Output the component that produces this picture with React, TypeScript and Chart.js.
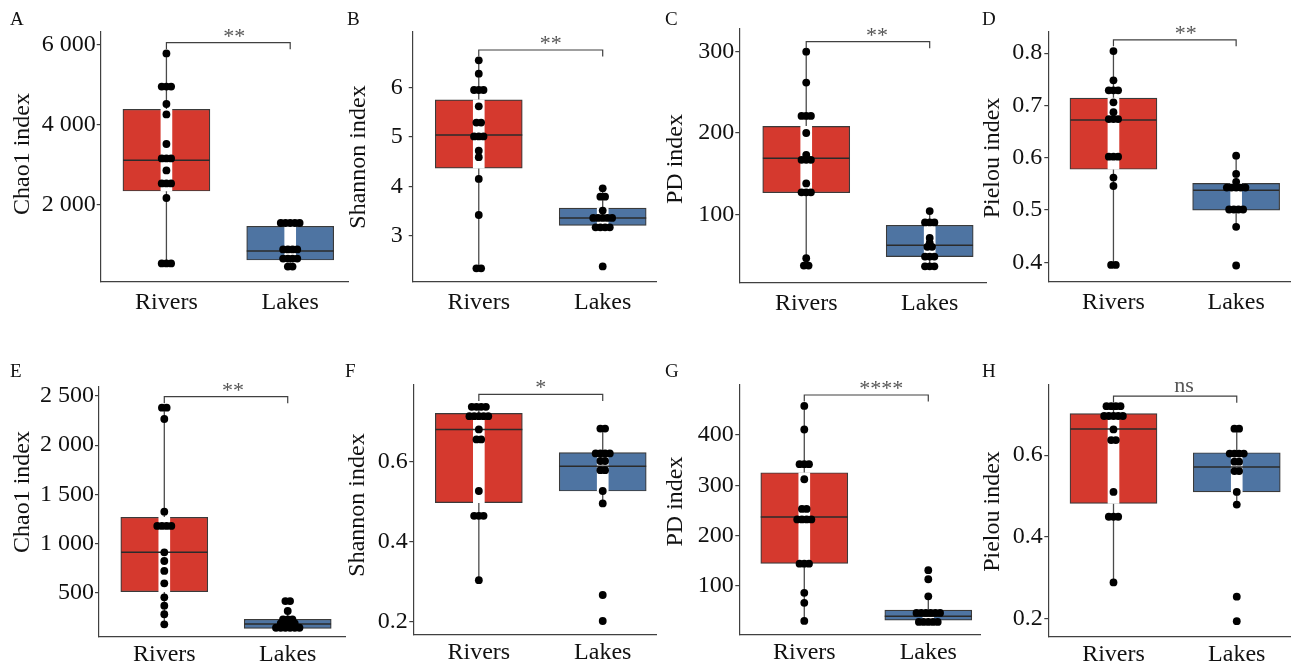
import React, { useEffect, useRef } from 'react';
import { Chart, registerables } from 'chart.js';

Chart.register(...registerables);

// ---------------- data ----------------
const groups = ['Rivers', 'Lakes'];
const panelLetters = ['A', 'B', 'C', 'D', 'E', 'F', 'G', 'H'];
const yTitles = ['Chao1 index', 'Shannon index', 'PD index', 'Pielou index', 'Chao1 index', 'Shannon index', 'PD index', 'Pielou index'];
const yTicks = [
  [2000, 4000, 6000],
  [3, 4, 5, 6],
  [100, 200, 300],
  [0.4, 0.5, 0.6, 0.7, 0.8],
  [500, 1000, 1500, 2000, 2500],
  [0.2, 0.4, 0.6],
  [100, 200, 300, 400],
  [0.2, 0.4, 0.6],
];
const yMin = [83, 2.07, 15.9, 0.363, 54, 0.167, 2, 0.155];
const yMax = [6333, 7.13, 328.8, 0.841, 2594, 0.792, 499.6, 0.772];
const sigLabels = ['**', '**', '**', '**', '**', '*', '****', 'ns'];
const sigLevels = [6058, 6.76, 312.3, 0.8255, 2493, 0.7685, 479.7, 0.7446];

const riversQ1 = [2350, 4.37, 126.6, 0.578, 511, 0.498, 144.4, 0.482];
const riversMedian = [3117, 5.04, 169, 0.672, 911, 0.681, 236.7, 0.664];
const riversQ3 = [4392, 5.75, 208.2, 0.714, 1267, 0.721, 325, 0.702];
const riversLow = [540, 2.34, 37, 0.395, 180, 0.304, 30, 0.288];
const riversHigh = [5790, 6.55, 300, 0.804, 2381, 0.7375, 458, 0.72];

const lakesQ1 = [625, 3.21, 48, 0.5, 139, 0.527, 31.5, 0.51];
const lakesMedian = [850, 3.36, 62, 0.538, 183, 0.589, 39.4, 0.571];
const lakesQ3 = [1467, 3.56, 86.5, 0.551, 231, 0.623, 51.4, 0.606];
const lakesLow = [460, 3.17, 36, 0.468, 145, 0.496, 28, 0.479];
const lakesHigh = [1550, 3.96, 104, 0.604, 315, 0.683, 79, 0.665];

const riversDots = [
  [5790, 4960, 4960, 4960, 4525, 4265, 3525, 3165, 3165, 3165, 2865, 2540, 2540, 2540, 2175, 540, 540, 540],
  [6.55, 6.28, 5.95, 5.95, 5.95, 5.62, 5.29, 5.29, 5.01, 5.01, 5.01, 4.72, 4.59, 4.15, 3.42, 2.34, 2.34],
  [300, 262, 221, 221, 221, 200, 173, 167, 167, 167, 138, 127, 127, 127, 46, 37, 37],
  [0.804, 0.748, 0.729, 0.729, 0.729, 0.706, 0.687, 0.674, 0.674, 0.674, 0.602, 0.602, 0.602, 0.562, 0.546, 0.395, 0.395],
  [2381, 2381, 2266, 1324, 1179, 1179, 1179, 1179, 911, 823, 722, 596, 454, 369, 282, 180],
  [0.7375, 0.7375, 0.7375, 0.7375, 0.714, 0.714, 0.714, 0.714, 0.714, 0.681, 0.656, 0.656, 0.527, 0.465, 0.465, 0.465, 0.304],
  [458, 411, 342, 342, 342, 312, 253, 253, 232, 232, 232, 232, 144, 144, 144, 86, 66, 30],
  [0.72, 0.72, 0.72, 0.72, 0.696, 0.696, 0.696, 0.696, 0.696, 0.663, 0.637, 0.637, 0.51, 0.449, 0.449, 0.449, 0.288],
];
const lakesDots = [
  [1550, 1550, 1550, 1550, 1550, 890, 890, 890, 890, 660, 660, 660, 660, 460, 460],
  [3.96, 3.79, 3.79, 3.51, 3.36, 3.36, 3.36, 3.36, 3.36, 3.17, 3.17, 3.17, 3.17, 2.38],
  [104, 90, 90, 90, 71, 65, 60, 60, 48, 48, 48, 36, 36, 36],
  [0.604, 0.569, 0.554, 0.543, 0.543, 0.543, 0.543, 0.543, 0.501, 0.501, 0.501, 0.501, 0.468, 0.394],
  [416, 416, 315, 230, 230, 230, 188, 188, 188, 188, 145, 145, 145, 145, 145, 145],
  [0.683, 0.683, 0.621, 0.621, 0.621, 0.621, 0.602, 0.602, 0.579, 0.579, 0.527, 0.496, 0.267, 0.202],
  [131, 113, 79, 46, 46, 46, 46, 46, 46, 28, 28, 28, 28, 28],
  [0.665, 0.665, 0.604, 0.604, 0.604, 0.604, 0.584, 0.584, 0.561, 0.561, 0.51, 0.479, 0.253, 0.193],
];

// ---------------- layout & style ----------------
const FONT = '"Liberation Serif", "Times New Roman", serif';
const RED = '#D5392E';
const BLUE = '#4E74A2';
const EDGE = '#3a3a3a';
const AXIS = '#404040';
const WHISKER = '#4a4a4a';
const DOT_STEP = 0.038; // horizontal step between stacked dots (x units)
const BOX_HALF = 0.351;
const TIP = 6.5;

type Lay = {
  rect: number[]; area: number[]; x: number[]; letter: number[]; title: number[];
  sigDx: number; tickPad: number; xPad: number;
};
const LAYOUT: Lay[] = [
  { rect: [0, 0, 352, 334], area: [100.7, 31.7, 349, 281.7], x: [0.469, 2.467], letter: [10, 25], title: [22.5, 154], sigDx: 6, tickPad: 1, xPad: 7 },
  { rect: [340, 0, 320, 334], area: [412.7, 31.7, 656.7, 281.7], x: [0.467, 2.43], letter: [347, 25], title: [358.5, 157], sigDx: 10, tickPad: 6, xPad: 7 },
  { rect: [660, 0, 330, 334], area: [739.3, 28.3, 987.7, 282.7], x: [0.458, 2.456], letter: [665, 25], title: [676, 159], sigDx: 9, tickPad: 1, xPad: 7 },
  { rect: [975, 0, 319, 334], area: [1048.3, 31.7, 1292, 281.7], x: [0.469, 2.439], letter: [982, 25], title: [992.5, 158], sigDx: 11, tickPad: 2, xPad: 7 },
  { rect: [0, 334, 350, 334], area: [99, 386.7, 345, 636.7], x: [0.471, 2.464], letter: [10, 377], title: [22.5, 492], sigDx: 7, tickPad: 1, xPad: 3.5 },
  { rect: [340, 334, 320, 334], area: [413.3, 385, 656.7, 635], x: [0.471, 2.43], letter: [345, 377], title: [357.5, 505], sigDx: 0, tickPad: 1.5, xPad: 3.5 },
  { rect: [660, 334, 325, 334], area: [739.3, 385, 980, 635], x: [0.476, 2.417], letter: [665, 377], title: [676, 501.5], sigDx: 15, tickPad: 1.5, xPad: 3.5 },
  { rect: [975, 334, 319, 334], area: [1048.3, 385, 1292, 636.7], x: [0.471, 2.432], letter: [982, 377], title: [992.5, 511.5], sigDx: 9, tickPad: 1.5, xPad: 3.5 },
];

function fmtTick(v: number) {
  if (Math.abs(v) >= 1000) return String(v).replace(/\B(?=(\d{3})+(?!\d))/g, ' ');
  return String(v);
}

function swarm(values: number[], center: number) {
  const counts = new Map<number, number>();
  values.forEach((v) => counts.set(v, (counts.get(v) || 0) + 1));
  const out: { x: number; y: number }[] = [];
  counts.forEach((n, v) => {
    for (let k = 0; k < n; k++) out.push({ x: center + (k - (n - 1) / 2) * DOT_STEP, y: v });
  });
  return out;
}

const annotPlugin = {
  id: 'annot',
  afterDatasetsDraw(chart: any, _args: any, opts: any) {
    const i = opts.i;
    const L = LAYOUT[i];
    const [rx, ry] = L.rect;
    const { ctx } = chart;
    const xs = chart.scales.x;
    const ys = chart.scales.y;
    ctx.save();
    const x1 = xs.getPixelForValue(1);
    const x2 = xs.getPixelForValue(2);
    const yb = ys.getPixelForValue(sigLevels[i]);
    ctx.strokeStyle = AXIS;
    ctx.lineWidth = 1.2;
    ctx.beginPath();
    ctx.moveTo(x1, yb + TIP);
    ctx.lineTo(x1, yb);
    ctx.lineTo(x2, yb);
    ctx.lineTo(x2, yb + TIP);
    ctx.stroke();
    const lab = sigLabels[i];
    ctx.fillStyle = '#555';
    ctx.font = `22px ${FONT}`;
    ctx.textAlign = 'center';
    ctx.textBaseline = 'alphabetic';
    ctx.fillText(lab, (x1 + x2) / 2 + L.sigDx, yb - (lab === 'ns' ? 4 : 0));
    ctx.fillStyle = '#111';
    ctx.font = `19px ${FONT}`;
    ctx.textAlign = 'left';
    ctx.fillText(panelLetters[i], L.letter[0] - rx, L.letter[1] - ry);
    ctx.translate(L.title[0] - rx, L.title[1] - ry);
    ctx.rotate(-Math.PI / 2);
    ctx.font = `24px ${FONT}`;
    ctx.textAlign = 'center';
    ctx.textBaseline = 'middle';
    ctx.fillStyle = '#111';
    ctx.fillText(yTitles[i], 0, 0);
    ctx.restore();
  },
};

function Panel({ i }: { i: number }) {
  const ref = useRef<HTMLCanvasElement>(null);
  const L = LAYOUT[i];
  const [rx, ry, rw, rh] = L.rect;
  useEffect(() => {
    const [al, at, ar, ab] = L.area;
    const boxes = [
      { x: 1, y: [riversQ1[i], riversQ3[i]] },
      { x: 2, y: [lakesQ1[i], lakesQ3[i]] },
    ];
    const whiskers = [
      { x: 1, y: riversLow[i] }, { x: 1, y: riversHigh[i] }, { x: 1.5, y: null },
      { x: 2, y: lakesLow[i] }, { x: 2, y: lakesHigh[i] },
    ];
    const medians = [
      { x: 1 - BOX_HALF, y: riversMedian[i] }, { x: 1 + BOX_HALF, y: riversMedian[i] }, { x: 1.5, y: null },
      { x: 2 - BOX_HALF, y: lakesMedian[i] }, { x: 2 + BOX_HALF, y: lakesMedian[i] },
    ];
    const dots = [...swarm(riversDots[i], 1), ...swarm(lakesDots[i], 2)];
    const chart = new Chart(ref.current as HTMLCanvasElement, {
      type: 'scatter',
      data: {
        datasets: [
          {
            type: 'bar', data: boxes as any, backgroundColor: [RED, BLUE], borderColor: EDGE,
            borderWidth: 1.2, borderSkipped: false, barThickness: 87, grouped: false, order: 6,
          } as any,
          {
            type: 'line', data: whiskers as any, borderColor: WHISKER, borderWidth: 1.3,
            pointRadius: 0, spanGaps: false, fill: false, order: 5,
          } as any,
          {
            type: 'bar', data: boxes as any, backgroundColor: '#ffffff', borderWidth: 0,
            barThickness: 11, grouped: false, order: 4,
          } as any,
          {
            type: 'line', data: medians as any, borderColor: '#2b2b2b', borderWidth: 1.5,
            pointRadius: 0, spanGaps: false, fill: false, order: 3,
          } as any,
          {
            type: 'scatter', data: dots as any, pointRadius: 3.9, backgroundColor: '#000000',
            borderWidth: 0, order: 1, clip: false,
          } as any,
        ],
      },
      options: {
        responsive: false,
        animation: false,
        events: [],
        layout: { padding: { left: 0, top: at - ry, right: rx + rw - ar, bottom: 0 } },
        plugins: {
          legend: { display: false },
          tooltip: { enabled: false },
          annot: { i },
        } as any,
        scales: {
          x: {
            type: 'linear', min: L.x[0], max: L.x[1], offset: false,
            grid: { display: false, drawTicks: false },
            border: { display: true, color: AXIS, width: 1.2 },
            ticks: {
              font: { family: FONT, size: 24 }, color: '#111', padding: L.xPad,
              maxRotation: 0, autoSkip: false,
              callback: (v: any) => groups[Math.round(Number(v)) - 1] ?? '',
            },
            afterBuildTicks: (s: any) => { s.ticks = [{ value: 1 }, { value: 2 }]; },
            afterFit: (s: any) => { s.height = ry + rh - ab; },
          },
          y: {
            type: 'linear', min: yMin[i], max: yMax[i],
            grid: { display: true, drawOnChartArea: false, drawTicks: true, tickLength: 4, color: AXIS, lineWidth: 1.2 },
            border: { display: true, color: AXIS, width: 1.2 },
            ticks: {
              font: { family: FONT, size: 24 }, color: '#111', padding: L.tickPad,
              callback: (v: any) => fmtTick(Number(v)),
            },
            afterBuildTicks: (s: any) => { s.ticks = yTicks[i].map((v) => ({ value: v })); },
            afterFit: (s: any) => { s.width = al - rx; },
          },
        } as any,
      },
      plugins: [annotPlugin as any],
    });
    return () => chart.destroy();
  }, []);
  return (
    <canvas
      ref={ref}
      width={rw}
      height={rh}
      style={{ position: 'absolute', left: rx, top: ry, width: rw, height: rh }}
    />
  );
}

export default function App() {
  return (
    <div style={{ position: 'absolute', left: 0, top: 0, width: 1294, height: 668, background: '#ffffff', overflow: 'hidden' }}>
      {LAYOUT.map((_, i) => (
        <Panel key={i} i={i} />
      ))}
    </div>
  );
}
